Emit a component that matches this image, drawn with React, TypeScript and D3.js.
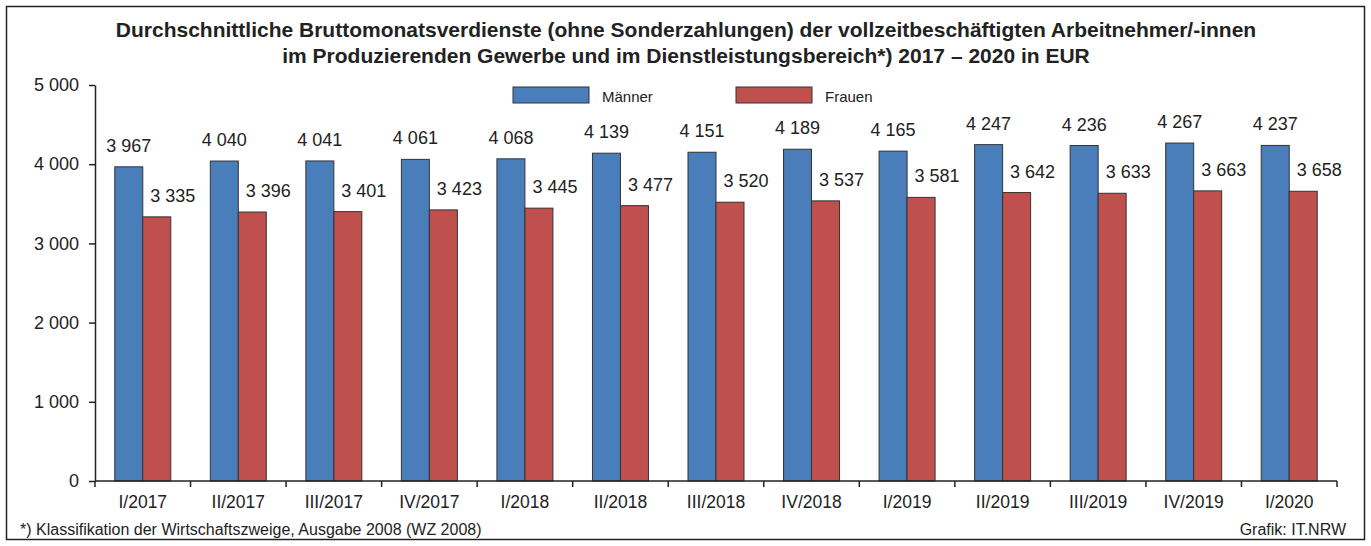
import { useEffect, useRef } from 'react';
import * as d3 from 'd3';

const quarters = ['I/2017', 'II/2017', 'III/2017', 'IV/2017', 'I/2018', 'II/2018', 'III/2018', 'IV/2018', 'I/2019', 'II/2019', 'III/2019', 'IV/2019', 'I/2020'];
const maenner = [3967, 4040, 4041, 4061, 4068, 4139, 4151, 4189, 4165, 4247, 4236, 4267, 4237];
const frauen = [3335, 3396, 3401, 3423, 3445, 3477, 3520, 3537, 3581, 3642, 3633, 3663, 3658];
const yTicks = [0, 1000, 2000, 3000, 4000, 5000];
const seriesNames = ['Männer', 'Frauen'];
const colors = ['#4a7ebb', '#c0504d'];

const W = 1371;
const H = 546;
const FONT = '"Liberation Sans", Arial, sans-serif';

const fmt = (v: number) => d3.format(',')(v).replace(/,/g, ' ');

export default function App() {
    const ref = useRef<SVGSVGElement | null>(null);

    useEffect(() => {
        if (!ref.current) return;
        const svg = d3.select(ref.current);
        svg.selectAll('*').remove();

        const margin = { top: 85, right: 34, bottom: 65, left: 95 };
        const x0 = margin.left;
        const x1 = W - margin.right;
        const yBottom = H - margin.bottom;

        svg.append('rect')
            .attr('x', 6.5).attr('y', 6.5)
            .attr('width', W - 13).attr('height', H - 13)
            .attr('fill', '#fff').attr('stroke', '#222').attr('stroke-width', 1.5);

        // Title
        const title = svg.append('text')
            .attr('text-anchor', 'middle')
            .attr('font-family', FONT).attr('font-weight', 'bold')
            .attr('font-size', 21).attr('fill', '#222');
        title.append('tspan').attr('x', W / 2 + 0.5).attr('y', 37)
            .text('Durchschnittliche Bruttomonatsverdienste (ohne Sonderzahlungen) der vollzeitbeschäftigten Arbeitnehmer/-innen');
        title.append('tspan').attr('x', W / 2 + 0.5).attr('y', 63)
            .text('im Produzierenden Gewerbe und im Dienstleistungsbereich*) 2017 – 2020 in EUR');

        const x = d3.scaleBand().domain(quarters).range([x0, x1]).paddingInner(0).paddingOuter(0);
        const y = d3.scaleLinear().domain([0, 5000]).range([yBottom, margin.top]);
        const barW = 28;

        // Y axis
        const yAxis = svg.append('g')
            .attr('transform', `translate(${x0},0)`)
            .call(d3.axisLeft(y).tickValues(yTicks).tickSize(6).tickSizeOuter(0).tickPadding(10).tickFormat(d => fmt(+d)));
        yAxis.select('.domain').attr('stroke', '#222').attr('stroke-width', 1.5);
        yAxis.selectAll('.tick line').attr('stroke', '#222').attr('stroke-width', 1.5);
        yAxis.selectAll('.tick text').attr('font-family', FONT).attr('font-size', 18).attr('fill', '#222');

        // Bars
        const groups = svg.append('g').selectAll('g')
            .data(quarters).enter().append('g');

        [maenner, frauen].forEach((vals, s) => {
            groups.append('rect')
                .attr('x', (d) => (x(d) as number) + x.bandwidth() / 2 - barW + s * barW)
                .attr('y', (d, i) => y(vals[i]))
                .attr('width', barW)
                .attr('height', (d, i) => yBottom - y(vals[i]))
                .attr('fill', colors[s])
                .attr('stroke', '#333').attr('stroke-width', 1);

            groups.append('text')
                .attr('x', (d) => (x(d) as number) + x.bandwidth() / 2 - barW / 2 + s * (barW + 16))
                .attr('y', (d, i) => y(vals[i]) - 15)
                .attr('text-anchor', 'middle')
                .attr('font-family', FONT).attr('font-size', 18).attr('fill', '#222')
                .text((d, i) => fmt(vals[i]));
        });

        // X axis
        const xAxis = svg.append('g').attr('transform', `translate(0,${yBottom})`);
        xAxis.append('line').attr('x1', x0).attr('x2', x1).attr('y1', 0).attr('y2', 0)
            .attr('stroke', '#222').attr('stroke-width', 1.5);
        const bounds = quarters.map(q => x(q) as number).concat([x1]);
        xAxis.selectAll('line.tk').data(bounds).enter().append('line')
            .attr('class', 'tk')
            .attr('x1', d => d).attr('x2', d => d).attr('y1', 0).attr('y2', 6)
            .attr('stroke', '#222').attr('stroke-width', 1.5);
        xAxis.selectAll('text').data(quarters).enter().append('text')
            .attr('x', d => (x(d) as number) + x.bandwidth() / 2)
            .attr('y', 27)
            .attr('text-anchor', 'middle')
            .attr('font-family', FONT).attr('font-size', 17.5).attr('fill', '#222')
            .text(d => d);

        // Legend
        const legend = svg.append('g');
        const legX = [513, 736];
        seriesNames.forEach((name, i) => {
            legend.append('rect')
                .attr('x', legX[i]).attr('y', 87).attr('width', 76).attr('height', 16)
                .attr('fill', colors[i]).attr('stroke', '#333').attr('stroke-width', 1);
            legend.append('text')
                .attr('x', legX[i] + 89).attr('y', 102)
                .attr('font-family', FONT).attr('font-size', 15).attr('fill', '#222')
                .text(name);
        });

        // Footnotes
        svg.append('text')
            .attr('x', 20).attr('y', 535)
            .attr('font-family', FONT).attr('font-size', 16).attr('fill', '#222')
            .text('*) Klassifikation der Wirtschaftszweige, Ausgabe 2008 (WZ 2008)');
        svg.append('text')
            .attr('x', 1346).attr('y', 535)
            .attr('text-anchor', 'end')
            .attr('font-family', FONT).attr('font-size', 16).attr('fill', '#222')
            .text('Grafik: IT.NRW');
    }, []);

    return (
        <svg ref={ref} width={W} height={H}
            style={{ position: 'absolute', left: 0, top: 0, display: 'block' }} />
    );
}
